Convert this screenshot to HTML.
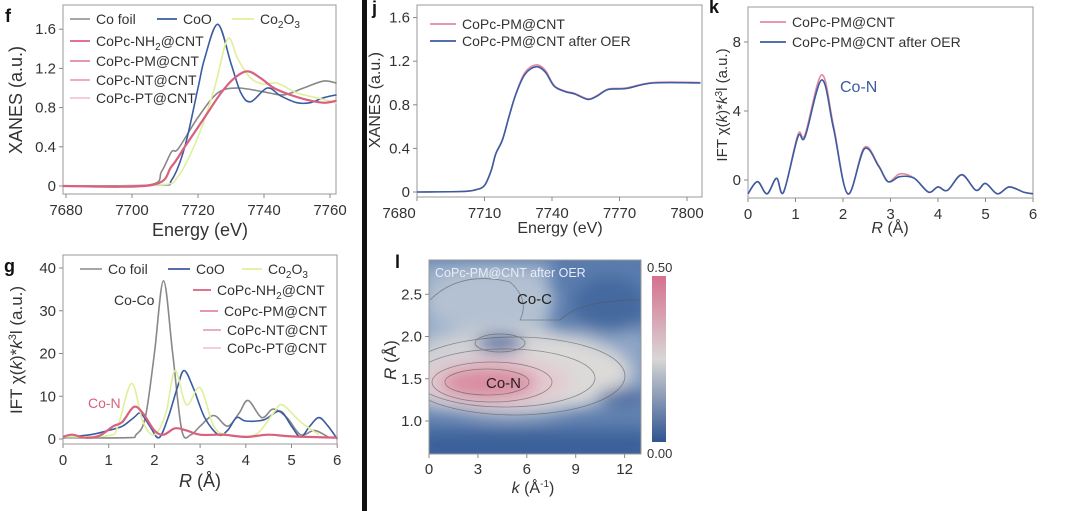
<!DOCTYPE html><html><head><meta charset="utf-8"><style>
body{margin:0;background:#fff;width:1076px;height:511px;overflow:hidden}
svg{position:absolute;left:0;top:0}
text{font-family:"Liberation Sans",sans-serif;fill:#333}
</style></head><body>
<svg id="s" width="1076" height="511" xmlns="http://www.w3.org/2000/svg">
<defs>
<filter id="bl" x="-50%" y="-50%" width="200%" height="200%"><feGaussianBlur stdDeviation="8"/></filter>
<clipPath id="cl"><rect x="429" y="260" width="212" height="194"/></clipPath>
<linearGradient id="cb" x1="0" y1="0" x2="0" y2="1"><stop offset="0" stop-color="#d6708e"/><stop offset="0.5" stop-color="#d8d6d6"/><stop offset="1" stop-color="#2f5590"/></linearGradient>
</defs>
<rect x="362" y="0" width="5" height="511" fill="#111"/>
<g clip-path="url(#cl)">
<rect x="429" y="260" width="212" height="194" fill="#5a7cad"/>
<g filter="url(#bl)">
<rect x="420" y="262" width="130" height="150" fill="#9cb0ca"/>
<rect x="540" y="330" width="110" height="80" fill="#8ea6c6"/>
<ellipse cx="490" cy="300" rx="65" ry="32" fill="#b4c1d2"/>
<ellipse cx="510" cy="372" rx="110" ry="45" fill="#cfd2d6"/>
<ellipse cx="560" cy="372" rx="70" ry="32" fill="#dcdad9"/>
<ellipse cx="495" cy="382" rx="75" ry="26" fill="#e3c9d0"/>
<ellipse cx="488" cy="383" rx="48" ry="16" fill="#d98ba2"/>
<ellipse cx="500" cy="343" rx="24" ry="9" fill="#4a6aa0"/>
<ellipse cx="610" cy="305" rx="36" ry="28" fill="#45699f"/>
<ellipse cx="625" cy="398" rx="28" ry="9" fill="#46689f"/>
<rect x="420" y="432" width="230" height="30" fill="#3a5f98"/>
</g>
<g fill="none" stroke="#555" stroke-width="0.8" opacity="0.6">
<ellipse cx="487" cy="382" rx="42" ry="13"/>
<ellipse cx="492" cy="382" rx="60" ry="20"/>
<ellipse cx="505" cy="378" rx="90" ry="29"/>
<ellipse cx="515" cy="376" rx="110" ry="39"/>
<ellipse cx="500" cy="343" rx="25" ry="9"/>
<path d="M430 300 Q460 270 510 282 Q530 300 520 320 L560 320 Q580 300 641 300"/>
</g>
</g>
<rect x="429" y="260" width="212" height="194" fill="none" stroke="#999"/>
<text x="435" y="277" font-size="12.5" style="fill:#e8edf4">CoPc-PM@CNT after OER</text>
<text x="517" y="304" font-size="15" style="fill:#222">Co-C</text>
<text x="486" y="388" font-size="15" style="fill:#222">Co-N</text>
<rect x="652" y="276" width="14" height="166" fill="url(#cb)"/>
<text x="647" y="272" font-size="13">0.50</text>
<text x="647" y="458" font-size="13">0.00</text>
<g id="g"></g>
<g font-size="18" font-weight="bold" style="fill:#111">
<text x="5" y="22" style="fill:#111">f</text><text x="4" y="272" style="fill:#111">g</text>
<text x="372" y="14" style="fill:#111">j</text><text x="709" y="13" style="fill:#111">k</text>
<text x="395" y="268" style="fill:#111">l</text></g>
</svg>
<script>
var G=document.getElementById('g'),h='';
function cr(pts){var d='M'+pts[0][0].toFixed(1)+' '+pts[0][1].toFixed(1);
for(var i=0;i<pts.length-1;i++){var p0=pts[i-1]||pts[i],p1=pts[i],p2=pts[i+1],p3=pts[i+2]||p2;
d+=' C'+(p1[0]+(p2[0]-p0[0])/6).toFixed(1)+' '+(p1[1]+(p2[1]-p0[1])/6).toFixed(1)+' '+(p2[0]-(p3[0]-p1[0])/6).toFixed(1)+' '+(p2[1]-(p3[1]-p1[1])/6).toFixed(1)+' '+p2[0].toFixed(1)+' '+p2[1].toFixed(1);}return d;}
function ax(o){var x0=o.x0,x1=o.x1,y0=o.y0,y1=o.y1;
h+='<rect x="'+x0+'" y="'+y0+'" width="'+(x1-x0)+'" height="'+(y1-y0)+'" fill="none" stroke="#aaa" stroke-width="1.2"/>';
o.xt.forEach(function(t,i){var X=o.X(t);h+='<line x1="'+X+'" x2="'+X+'" y1="'+y1+'" y2="'+(y1+4)+'" stroke="#888"/><text x="'+(X+((o.dx&&i==0)?o.dx:0))+'" y="'+(y1+21)+'" font-size="15" text-anchor="middle">'+t+'</text>';});
o.yt.forEach(function(t){var Y=o.Y(t[0]);h+='<line x1="'+(x0-4)+'" x2="'+x0+'" y1="'+Y+'" y2="'+Y+'" stroke="#888"/><text x="'+(x0-7)+'" y="'+(Y+5)+'" font-size="15" text-anchor="end">'+t[1]+'</text>';});
o.s.forEach(function(s){var p=s[0].map(function(q){return [o.X(q[0]),Math.max(y0,Math.min(y1,o.Y(q[1])))]});h+='<path d="'+cr(p)+'" fill="none" stroke="'+s[1]+'" stroke-width="'+(s[2]||1.6)+'"/>';});}
var fX=function(e){return 66+(e-7680)*3.3},fY=function(v){return 186-v*98};
var pink=[[7679,0],[7706,0.01],[7712,0.2],[7716,0.4],[7722,0.7],[7727,0.95],[7731,1.1],[7735,1.17],[7739,1.1],[7743,1.0],[7748,0.93],[7753,0.88],[7758,0.85],[7762,0.87]];
ax({x0:63,x1:336,y0:5,y1:194,X:fX,Y:fY,xt:[7680,7700,7720,7740,7760],yt:[[0,'0'],[0.4,'0.4'],[0.8,'0.8'],[1.2,'1.2'],[1.6,'1.6']],s:[
[[[7679,0],[7705,0.01],[7709,0.15],[7712,0.35],[7714,0.38],[7720,0.7],[7726,0.95],[7732,1.0],[7740,0.96],[7746,0.93],[7752,1.0],[7758,1.07],[7762,1.05]],'#888'],
[[[7679,0],[7708,0.01],[7712,0.06],[7716,0.4],[7720,1.0],[7722,1.3],[7726,1.65],[7730,1.25],[7733,0.95],[7736,0.86],[7741,1.0],[7745,0.92],[7750,0.85],[7754,0.85],[7758,0.9],[7762,0.93]],'#3b5ca0'],
[[[7679,0],[7708,0.01],[7714,0.1],[7720,0.5],[7725,1.0],[7729,1.5],[7732,1.3],[7736,1.1],[7740,1.04],[7744,1.05],[7750,0.95],[7756,0.9],[7762,0.85]],'#dff09a'],
[pink,'#d9607f',2.2]]});
h+='<text x="22" y="100" font-size="18" transform="rotate(-90 22 100)" text-anchor="middle">XANES (a.u.)</text><text x="200" y="236" font-size="18" text-anchor="middle">Energy (eV)</text>';
function leg(x,y,c,t,w){h+='<line x1="'+x+'" x2="'+(x+(w||28))+'" y1="'+y+'" y2="'+y+'" stroke="'+c+'" stroke-width="1.8"/><text x="'+(x+(w||28)+6)+'" y="'+(y+5)+'" font-size="14">'+t+'</text>';}
leg(70,19,'#999','Co foil',20);leg(157,19,'#3b5ca0','CoO',20);leg(232,19,'#dff09a','Co<tspan font-size="10" dy="4">2</tspan><tspan dy="-4">O</tspan><tspan font-size="10" dy="4">3</tspan>',22);
leg(70,41,'#d9607f','CoPc-NH<tspan font-size="10" dy="4">2</tspan><tspan dy="-4">@CNT</tspan>',20);leg(70,61,'#e08aa0','CoPc-PM@CNT',20);leg(70,80,'#e8a5b5','CoPc-NT@CNT',20);leg(70,98,'#f0c8d2','CoPc-PT@CNT',20);
var gX=function(r){return 63+r*45.7},gY=function(v){return 439-v*4.275};
ax({x0:63,x1:337,y0:255,y1:444,X:gX,Y:gY,xt:[0,1,2,3,4,5,6],yt:[[0,'0'],[10,'10'],[20,'20'],[30,'30'],[40,'40']],s:[
[[[0,0.3],[1.4,0.3],[1.6,1],[1.8,5],[2.0,20],[2.2,37],[2.4,20],[2.6,2],[2.8,1],[3.0,3],[3.3,5.5],[3.6,3],[3.85,6],[4.05,9],[4.35,5],[4.6,7],[4.9,5],[5.2,1],[5.5,2],[5.8,0.5]],'#888'],
[[[0,0.3],[0.6,1],[1.0,2],[1.3,3],[1.55,5],[1.7,6],[1.9,3],[2.1,0.3],[2.3,5],[2.5,12],[2.65,16],[2.85,12],[3.1,5],[3.4,1],[3.6,2],[3.8,5],[4.0,4.2],[4.4,4.5],[4.75,6.5],[5.0,3],[5.2,0.5],[5.4,3],[5.6,5],[5.8,3],[6,0]],'#3b5ca0'],
[[[0,0.5],[1.0,0.8],[1.2,3],[1.5,13],[1.75,4],[2.0,1],[2.25,6],[2.45,16],[2.7,8],[3.0,12],[3.3,3],[3.6,1],[4.2,1],[4.6,6],[4.8,8],[5.2,4],[5.6,1]],'#dff09a'],
[[[0,0.5],[0.2,1],[0.5,0.3],[0.8,0.8],[1.1,3],[1.3,4],[1.55,7.5],[1.75,6],[2.0,2],[2.2,1],[2.45,2.5],[2.7,2],[3.0,1],[3.5,1],[4,0.5],[4.5,1],[5,0.6],[6,0.3]],'#d9607f',2.2]]});
h+='<text x="22" y="350" font-size="17" transform="rotate(-90 22 350)" text-anchor="middle">IFT χ(<tspan font-style="italic">k</tspan>)*<tspan font-style="italic">k</tspan><tspan font-size="11" dy="-6">3</tspan><tspan dy="6">l (a.u.)</tspan></text><text x="200" y="487" font-size="18" text-anchor="middle"><tspan font-style="italic">R</tspan> (Å)</text>';
leg(80,269,'#999','Co foil',22);leg(168,269,'#3b5ca0','CoO',22);leg(242,269,'#dff09a','Co<tspan font-size="10" dy="4">2</tspan><tspan dy="-4">O</tspan><tspan font-size="10" dy="4">3</tspan>',20);
leg(193,290,'#d9607f','CoPc-NH<tspan font-size="10" dy="4">2</tspan><tspan dy="-4">@CNT</tspan>',18);leg(200,311,'#e08aa0','CoPc-PM@CNT',18);leg(203,330,'#e8a5b5','CoPc-NT@CNT',18);leg(203,348,'#f0c8d2','CoPc-PT@CNT',18);
h+='<text x="114" y="305" font-size="14">Co-Co</text><text x="88" y="408" font-size="14" style="fill:#d9607f">Co-N</text>';
var jX=function(e){return 417+(e-7680)*2.25},jY=function(v){return 192-v*109};
var jd=[[7680,0],[7700,0.005],[7706,0.02],[7710,0.06],[7713,0.2],[7715,0.35],[7718,0.48],[7721,0.7],[7724,0.9],[7728,1.08],[7733,1.15],[7737,1.1],[7741,0.97],[7746,0.92],[7750,0.9],[7756,0.85],[7760,0.88],[7765,0.94],[7773,0.95],[7785,1.0],[7806,1.0]];
var jp=jd.map(function(q){return [q[0],q[1]*(q[0]>7725&&q[0]<7740?1.015:1.005)]});
ax({x0:417,x1:702,y0:5,y1:197,X:jX,Y:jY,xt:[7680,7710,7740,7770,7800],dx:-18,yt:[[0,'0'],[0.4,'0.4'],[0.8,'0.8'],[1.2,'1.2'],[1.6,'1.6']],s:[[jp,'#e58aa0'],[jd,'#3b5ca0']]});
h+='<text x="380" y="100" font-size="16" transform="rotate(-90 380 100)" text-anchor="middle">XANES (a.u.)</text><text x="560" y="233" font-size="16" text-anchor="middle">Energy (eV)</text>';
leg(430,24,'#e58aa0','CoPc-PM@CNT',26);leg(430,41,'#3b5ca0','CoPc-PM@CNT after OER',26);
var kX=function(r){return 748+r*47.5},kY=function(v){return 180-v*17.25};
var kd=[[0,-0.8],[0.2,-0.1],[0.4,-0.8],[0.6,0.1],[0.75,-0.7],[1.05,2.5],[1.2,2.5],[1.55,5.8],[1.8,3],[2.1,-0.8],[2.45,1.8],[2.75,0.8],[2.95,-0.1],[3.2,0.2],[3.5,0.1],[3.8,-0.7],[4.0,-0.4],[4.2,-0.6],[4.5,0.3],[4.8,-0.6],[5.0,-0.2],[5.25,-0.8],[5.5,-0.4],[5.8,-0.7],[6,-0.8]];
var kp=kd.map(function(q){return [q[0],q[1]*(q[1]>0?1.05:1)+(q[0]>3&&q[0]<3.4?0.15:0)]});
ax({x0:748,x1:1033,y0:7,y1:198,X:kX,Y:kY,xt:[0,1,2,3,4,5,6],yt:[[0,'0'],[4,'4'],[8,'8']],s:[[kp,'#e58aa0'],[kd,'#3b5ca0']]});
h+='<text x="727" y="105" font-size="15" transform="rotate(-90 727 105)" text-anchor="middle">IFT χ(<tspan font-style="italic">k</tspan>)*<tspan font-style="italic">k</tspan><tspan font-size="10" dy="-5">3</tspan><tspan dy="5">l (a.u.)</tspan></text><text x="890" y="233" font-size="16" text-anchor="middle"><tspan font-style="italic">R</tspan> (Å)</text>';
leg(760,22,'#e58aa0','CoPc-PM@CNT',26);leg(760,42,'#3b5ca0','CoPc-PM@CNT after OER',26);
h+='<text x="840" y="92" font-size="16" style="fill:#3b5ca0">Co-N</text>';
var lX=function(k){return 429+k*16.3},lY=function(r){return 421-(r-1)*84.5};
[0,3,6,9,12].forEach(function(t){var X=lX(t);h+='<line x1="'+X+'" x2="'+X+'" y1="454" y2="458" stroke="#888"/><text x="'+X+'" y="474" font-size="15" text-anchor="middle">'+t+'</text>';});
[[1,'1.0'],[1.5,'1.5'],[2,'2.0'],[2.5,'2.5']].forEach(function(t){var Y=lY(t[0]);h+='<line x1="425" x2="429" y1="'+Y+'" y2="'+Y+'" stroke="#888"/><text x="422" y="'+(Y+5)+'" font-size="15" text-anchor="end">'+t[1]+'</text>';});
h+='<text x="396" y="360" font-size="17" transform="rotate(-90 396 360)" text-anchor="middle"><tspan font-style="italic">R</tspan> (Å)</text><text x="533" y="493" font-size="16" text-anchor="middle"><tspan font-style="italic">k</tspan> (Å<tspan font-size="10" dy="-6">-1</tspan><tspan dy="6">)</tspan></text>';
G.innerHTML=h;
</script>
</body></html>
